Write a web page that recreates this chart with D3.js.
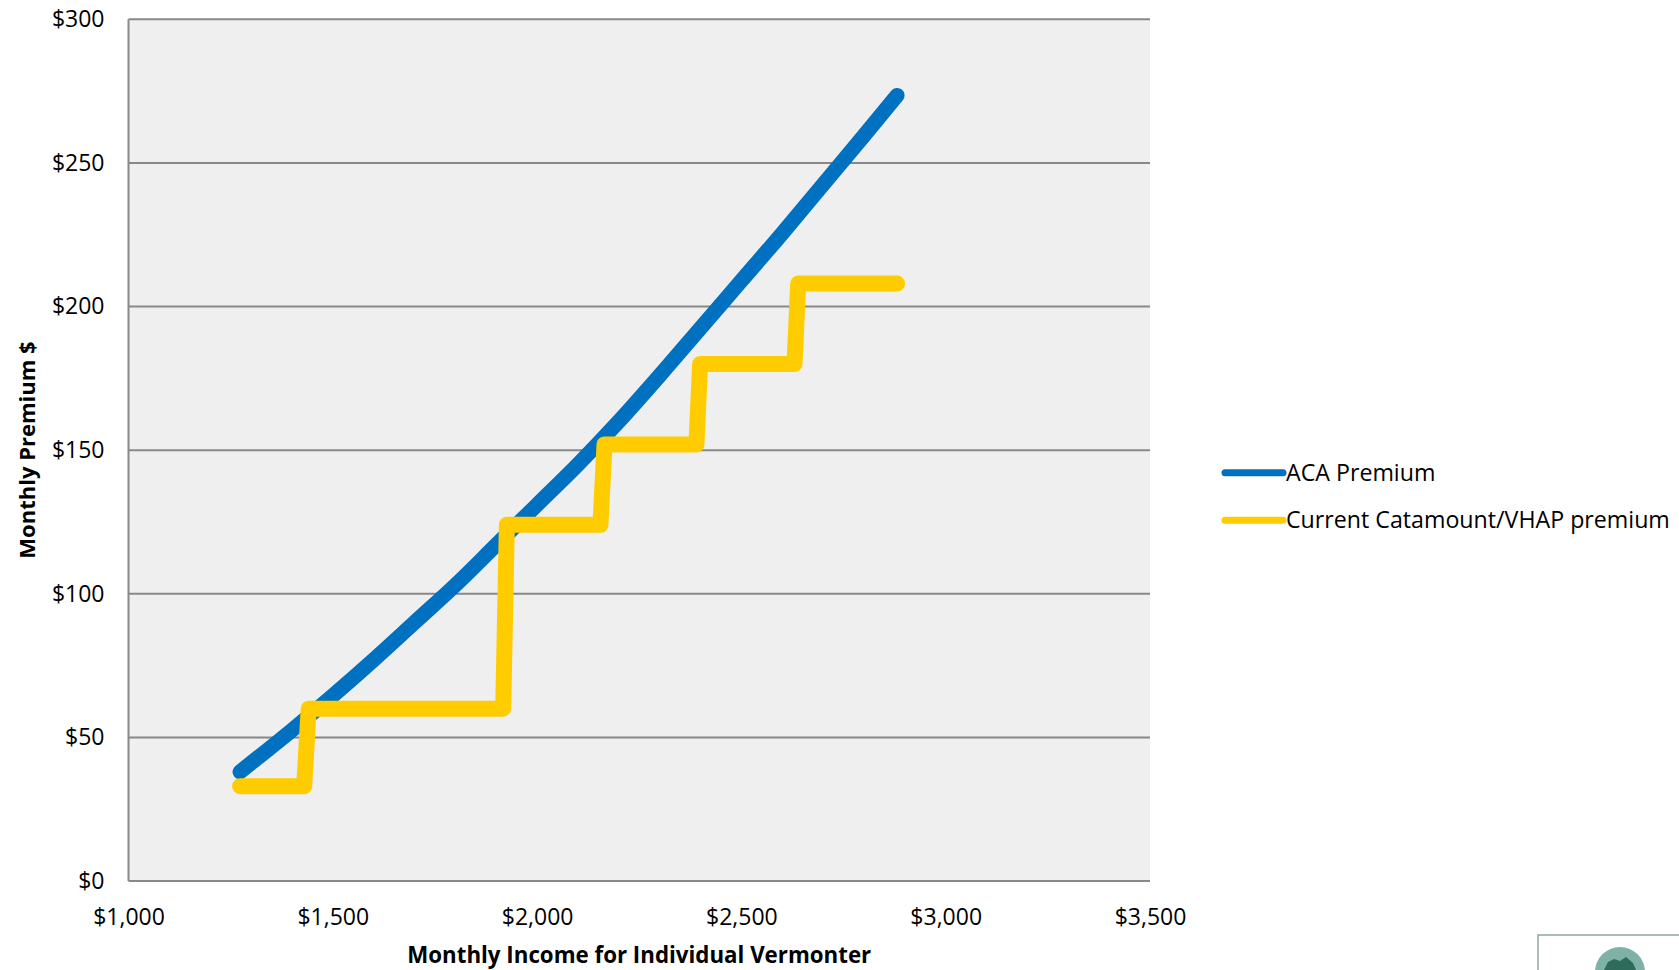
<!DOCTYPE html>
<html>
<head>
<meta charset="utf-8">
<script src="https://cdn.jsdelivr.net/npm/d3@7"></script>
<style>
  body { margin: 0; background: #fff; }
  text { font-family: "Open Sans", sans-serif; fill: #000; }
</style>
</head>
<body>
<div id="chart"></div>
<script>
// ACA premium curve (monthly income -> monthly premium)
const acaIncome  = [1273, 1400, 1500, 1600, 1700, 1800, 1900, 2000, 2100, 2200, 2300, 2400, 2500, 2600, 2700, 2800, 2881];
const acaPremium = [38, 52.5, 64.5, 77, 90, 103, 117, 131, 145, 160, 176, 192.5, 209, 225.5, 242.5, 259.5, 273.5];

// Catamount/VHAP premium steps
const vhapIncome  = [1273, 1430, 1441, 1917, 1926, 2155, 2165, 2390, 2399, 2630, 2639, 2881];
const vhapPremium = [33, 33, 60, 60, 124, 124, 152, 152, 180, 180, 208, 208];

const xTicks = [1000, 1500, 2000, 2500, 3000, 3500];
const yTicks = [0, 50, 100, 150, 200, 250, 300];
const seriesNames = ["ACA Premium", "Current Catamount/VHAP premium"];
const seriesColors = ["#0070C0", "#FFCC00"];

const W = 1679, H = 970;
const margin = {top: 19.3, right: 529, bottom: 89, left: 128.5};

const svg = d3.select("#chart").append("svg")
  .attr("width", W)
  .attr("height", H);

svg.append("rect").attr("width", W).attr("height", H).attr("fill", "#fff");

const x = d3.scaleLinear().domain([1000, 3500]).range([margin.left, W - margin.right]);
const y = d3.scaleLinear().domain([0, 300]).range([H - margin.bottom, margin.top]);

// plot background
svg.append("rect")
  .attr("x", x(1000)).attr("y", y(300))
  .attr("width", x(3500) - x(1000))
  .attr("height", y(0) - y(300))
  .attr("fill", "#EFEFEF");

// horizontal gridlines
svg.selectAll(".grid")
  .data(yTicks)
  .enter().append("line")
  .attr("x1", x(1000)).attr("x2", x(3500))
  .attr("y1", d => y(d)).attr("y2", d => y(d))
  .attr("stroke", "#888").attr("stroke-width", 2);

// left axis line
svg.append("line")
  .attr("x1", x(1000)).attr("x2", x(1000))
  .attr("y1", y(300)).attr("y2", y(0))
  .attr("stroke", "#888").attr("stroke-width", 2);

// y tick labels
const yAxis = svg.append("g")
  .attr("transform", `translate(${x(1000) - 24},0)`)
  .call(d3.axisLeft(y).tickValues(yTicks).tickSize(0).tickFormat(d => "$" + d));
yAxis.select(".domain").remove();
yAxis.selectAll("text")
  .attr("x", 0)
  .style("font-family", "Open Sans")
  .style("font-size", "23px")
  .attr("fill", "#000");

// x tick labels
const xAxis = svg.append("g")
  .attr("transform", `translate(0,${y(0) + 30})`)
  .call(d3.axisBottom(x).tickValues(xTicks).tickSize(0).tickFormat(d => "$" + d3.format(",")(d)));
xAxis.select(".domain").remove();
xAxis.selectAll("text")
  .attr("y", 0)
  .attr("dy", "0.6em")
  .style("font-family", "Open Sans")
  .style("font-size", "23px")
  .attr("fill", "#000");

// axis titles
svg.append("text")
  .attr("x", (x(1000) + x(3500)) / 2)
  .attr("y", 955)
  .attr("dy", "0.35em")
  .attr("text-anchor", "middle")
  .style("font-size", "22.3px")
  .style("font-weight", "bold")
  .text("Monthly Income for Individual Vermonter");

svg.append("text")
  .attr("transform", "translate(27,450) rotate(-90)")
  .attr("dy", "0.35em")
  .attr("text-anchor", "middle")
  .style("font-size", "22px")
  .style("font-weight", "bold")
  .text("Monthly Premium $");

// lines
const acaLine = d3.line().curve(d3.curveMonotoneX).x(d => x(d[0])).y(d => y(d[1]));
const stepLine = d3.line().x(d => x(d[0])).y(d => y(d[1]));

const acaData = acaIncome.map((v, i) => [v, acaPremium[i]]);
const vhapData = vhapIncome.map((v, i) => [v, vhapPremium[i]]);

svg.append("path")
  .datum(acaData)
  .attr("d", acaLine)
  .attr("fill", "none")
  .attr("stroke", seriesColors[0])
  .attr("stroke-width", 15)
  .attr("stroke-linecap", "round")
  .attr("stroke-linejoin", "round");

svg.append("path")
  .datum(vhapData)
  .attr("d", stepLine)
  .attr("fill", "none")
  .attr("stroke", seriesColors[1])
  .attr("stroke-width", 16)
  .attr("stroke-linecap", "round")
  .attr("stroke-linejoin", "round");

// legend
const legend = svg.selectAll(".legend")
  .data(seriesNames)
  .enter().append("g")
  .attr("transform", (d, i) => `translate(1225,${472.7 + i * 47.5})`);

legend.append("line")
  .attr("x1", 0).attr("x2", 58)
  .attr("stroke", (d, i) => seriesColors[i])
  .attr("stroke-width", 7)
  .attr("stroke-linecap", "round");

legend.append("text")
  .attr("x", 61)
  .attr("dy", "0.35em")
  .style("font-size", "23.2px")
  .text(d => d);

// corner logo fragment (bottom right)
svg.append("rect")
  .attr("x", 1538).attr("y", 935)
  .attr("width", 160).attr("height", 60)
  .attr("fill", "#fff")
  .attr("stroke", "#8FA89F").attr("stroke-width", 1.5);

svg.append("path")
  .attr("transform", "translate(1620,972)")
  .attr("d", d3.arc().innerRadius(11).outerRadius(25).startAngle(-Math.PI / 2).endAngle(Math.PI / 2)())
  .attr("fill", "#7FB2A6");

svg.append("path")
  .attr("d", "M1603,972 L1608,962 L1614,959 L1620,961 L1626,957 L1633,963 L1637,972 Z")
  .attr("fill", "#2E6B5A");
</script>
</body>
</html>
